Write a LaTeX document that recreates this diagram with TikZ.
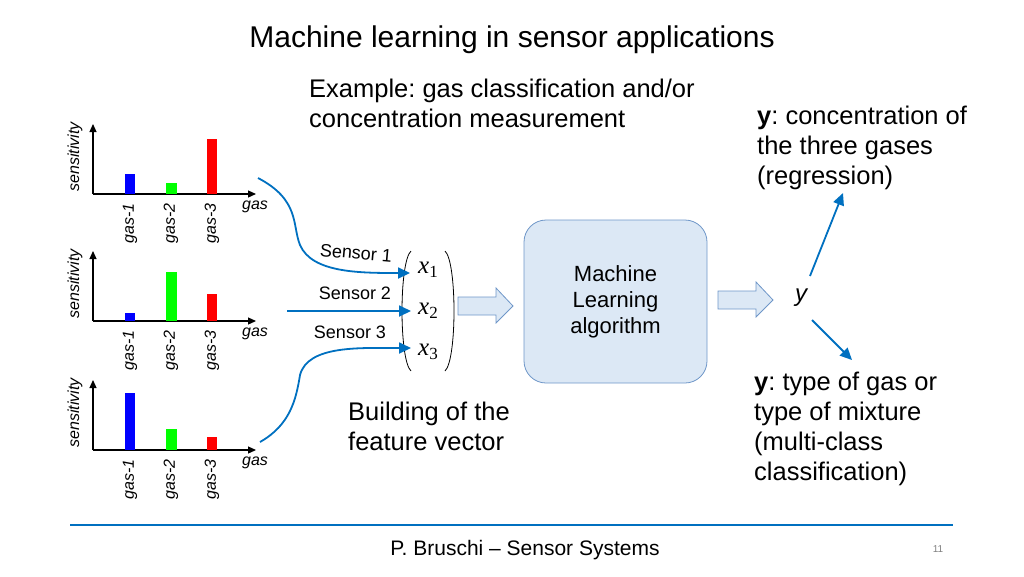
\documentclass[tikz,border=0pt]{standalone}
\usepackage{fontspec}
\setmainfont{Liberation Sans}
\newfontfamily\tms{Liberation Serif}
\usetikzlibrary{arrows.meta}
\definecolor{lblue}{RGB}{0,112,192}
\definecolor{boxfill}{RGB}{220,232,245}
\definecolor{boxline}{RGB}{110,150,200}
\frenchspacing
\newcommand{\xv}[1]{{\fontsize{25}{25}\selectfont\tms\itshape x}\raisebox{-4pt}{\fontsize{17}{17}\selectfont\tms #1}}
\begin{document}
\begin{tikzpicture}[x=1pt,y=-1pt,
  conn/.style={lblue,line width=1.8pt,-{Triangle[length=12pt,width=11pt]}},
  axis/.style={black,line width=1.2pt,-{Triangle[length=8pt,width=7pt]}},
  glab/.style={rotate=90,anchor=east,font=\itshape\fontsize{16}{16}\selectfont,inner sep=1pt},
  txt/.style={font=\fontsize{25.5}{30}\selectfont,align=left,anchor=north west,inner sep=0pt},
  snl/.style={font=\fontsize{18}{18}\selectfont},
  hollow/.style={draw=boxline,fill=boxfill,line width=0.8pt}]
\useasboundingbox (0,0) rectangle (1024,576);
\node (title) at (512,40) {\fontsize{30}{30}\selectfont Machine learning in sensor applications};
\node[txt] (ex) at (309,79) {Example: gas classification and/or\\concentration measurement};
\node[txt] (yreg) at (757,106) {\textbf{y}: concentration of\\the three gases\\(regression)};
\node[txt] (ycls) at (754,372) {\textbf{y}: type of gas or\\type of mixture\\(multi-class\\classification)};
\node[txt] (build) at (348,402) {Building of the\\feature vector};
% charts
\foreach \i/\ay/\ta/\tb/\tc in {1/194/174/183/139, 2/321/313/272/294, 3/450/393/429/437}{
  \coordinate (o\i) at (93,\ay);
  \coordinate (xe\i) at (256,\ay);
  \coordinate (ye\i) at (93,\ay-70);
  \draw[axis] (o\i) -- (xe\i);
  \draw[axis] (o\i) -- (ye\i);
  \fill[blue] (125,\ta) rectangle (135,\ay);
  \fill[green] (166,\tb) rectangle (177,\ay);
  \fill[red] (207,\tc) rectangle (217,\ay);
  \node[glab] (g1\i) at (130,\ay+8) {gas-1};
  \node[glab] (g2\i) at (171,\ay+8) {gas-2};
  \node[glab] (g3\i) at (212,\ay+8) {gas-3};
  \node[font=\itshape\fontsize{16}{16}\selectfont] (gl\i) at (255,\ay+13) {gas};
  \node[rotate=90,font=\itshape\fontsize{16}{16}\selectfont] (s\i) at (75,\ay-37) {sensitivity};
}
% feature vector
\node (x1) at (428,270) {\xv{1}};
\node (x2) at (428,311) {\xv{2}};
\node (x3) at (428,352) {\xv{3}};
\draw[line width=0.8pt] (411,251) .. controls (399,262) and (399,360) .. (411,371);
\draw[line width=0.8pt] (445,251) .. controls (457,262) and (457,360) .. (445,371);
\coordinate (c1s) at (258,178);
\coordinate (c1e) at (410,273);
\coordinate (c2s) at (287,311);
\coordinate (c2e) at (411,311);
\coordinate (c3s) at (260,442);
\coordinate (c3e) at (411,348);
\draw[conn] (c1s) .. controls (300,200) and (292,225) .. (300,245) .. controls (312,273) and (360,273) .. (c1e);
\draw[conn] (c2s) -- (c2e);
\draw[conn] (c3s) .. controls (290,425) and (296,400) .. (300,375) .. controls (308,345) and (360,348) .. (c3e);
\node[snl,rotate=-5] (sn1) at (356,253) {Sensor 1};
\node[snl] (sn2) at (355,293) {Sensor 2};
\node[snl] (sn3) at (350,332) {Sensor 3};
% hollow arrows
\draw[hollow] (458,297) -- (496,297) -- (496,288) -- (513,306) -- (496,323) -- (496,315) -- (458,315) -- cycle;
\draw[hollow] (718,291) -- (756,291) -- (756,282) -- (773,300) -- (756,317) -- (756,309) -- (718,309) -- cycle;
% ML box
\node[draw=boxline,fill=boxfill,rounded corners=22pt,minimum width=183pt,minimum height=163pt,line width=0.8pt,align=center,font=\fontsize{22}{26}\selectfont] (ml) at (615.5,301.5) {Machine\\Learning\\algorithm};
\node (y) at (801,298) {\fontsize{24}{24}\selectfont\itshape y};
\coordinate (a1s) at (810,276);
\coordinate (a1e) at (843,193);
\coordinate (a2s) at (812,320);
\coordinate (a2e) at (852,360);
\draw[conn] (a1s) -- (a1e);
\draw[conn] (a2s) -- (a2e);
% footer
\coordinate (l1) at (70,525);
\coordinate (l2) at (953,525);
\draw[lblue,line width=2.5pt] (l1) -- (l2);
\node (foot) at (525,550) {\fontsize{21}{21}\selectfont P. Bruschi – Sensor Systems};
\node[gray] (pg) at (938,549) {\fontsize{10}{10}\selectfont 11};
\end{tikzpicture}
\end{document}
